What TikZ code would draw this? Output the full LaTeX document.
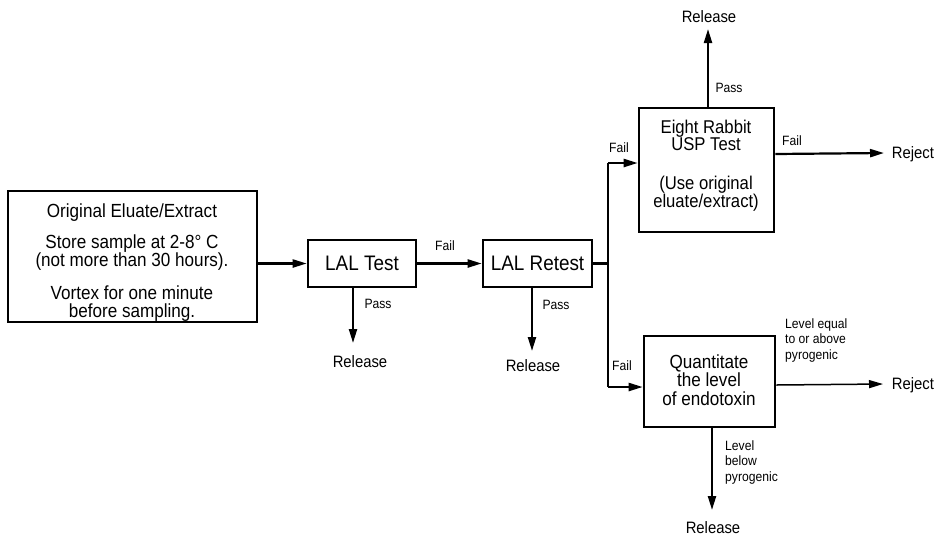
\documentclass[tikz,border=0pt]{standalone}
\usepackage{fontspec}
\setmainfont{Liberation Sans}[FakeStretch=0.9]
\usetikzlibrary{arrows.meta}
\begin{document}
\begin{tikzpicture}[x=1pt,y=-1pt,
  box/.style={draw,line width=2.6pt,minimum width=#1},
  flow/.style={line width=2.2pt,-{Triangle[length=14pt,width=8pt]}},
  thin flow/.style={line width=1.5pt,-{Triangle[length=14pt,width=8pt]}},
  txt/.style={inner sep=0pt,font=\fontsize{19}{18}\selectfont},
  big/.style={inner sep=0pt,font=\fontsize{21}{22}\selectfont},
  lbl/.style={inner sep=0pt,font=\fontsize{13.5}{15.5}\selectfont},
  outcome/.style={inner sep=0pt,font=\fontsize{16.5}{18}\selectfont}]
\useasboundingbox (0,0) rectangle (944,539);
% boxes
\node[box=249pt,minimum height=131pt] (orig) at (132.5,256.5) {};
\node[box=108pt,minimum height=47pt] (lal) at (362,263.5) {};
\node[box=109pt,minimum height=47pt] (retest) at (537.5,263.5) {};
\node[box=135pt,minimum height=124pt] (rabbit) at (706.5,170) {};
\node[box=131pt,minimum height=91pt] (quant) at (709.5,381.5) {};
% box texts
\node[txt] (o1) at (132,213) {Original Eluate/Extract};
\node[txt,align=center] (o2) at (132,253) {Store sample at 2-8° C\\(not more than 30 hours).};
\node[txt,align=center] (o3) at (132,304) {Vortex for one minute\\before sampling.};
\node[big] (lalt) at (lal) {LAL Test};
\node[big] (rett) at (retest) {LAL Retest};
\node[txt,align=center,font=\fontsize{18.5}{17}\selectfont] (r1) at (706,135) {Eight Rabbit\\USP Test};
\node[txt,align=center,font=\fontsize{18.5}{17}\selectfont] (r2) at (706,193.5) {(Use original\\eluate/extract)};
\node[txt,align=center,font=\fontsize{19}{18.5}\selectfont] (q1) at (709,380) {Quantitate\\the level\\of endotoxin};
% coordinates
\coordinate (j) at (608,263.5);
\coordinate (jt) at (608,163);
\coordinate (jb) at (608,387);
% outcome nodes
\node[outcome] (rel1) at (360,362) {Release};
\node[outcome] (rel2) at (533,366) {Release};
\node[outcome] (rel3) at (709,17) {Release};
\node[outcome] (rel4) at (713,528) {Release};
\node[outcome] (rej1) at (913,154) {Reject};
\node[outcome] (rej2) at (913,385) {Reject};
% connectors
\draw[flow] (orig.east |- lal.west) -- (lal.west);
\draw[flow] (lal.east) -- (retest.west);
\draw[line width=2.2pt] (retest.east) -- (j);
\draw[line width=2.2pt] (jt) -- (jb);
\draw[flow] (jt) -- (rabbit.west |- jt);
\draw[flow] (jb) -- (quant.west |- jb);
\draw[flow] (353,287) coordinate (p1) -- (353,343);
\draw[flow] (532,287) coordinate (p2) -- (532,351);
\draw[flow] (708,108) coordinate (p3) -- (708,29);
\draw[flow] (rabbit.east |- rej1) -- (884,153);
\draw[thin flow] (quant.east |- rej2) -- (883,384);
\draw[flow] (712,427) coordinate (p4) -- (712,510);
% labels
\node[lbl] (f1) at (445,246) {Fail};
\node[lbl] (ps1) at (378,304) {Pass};
\node[lbl] (ps2) at (556,305) {Pass};
\node[lbl] (f2) at (619,148) {Fail};
\node[lbl] (f3) at (622,366) {Fail};
\node[lbl] (ps3) at (729,88) {Pass};
\node[lbl] (f4) at (792,141) {Fail};
\node[lbl,align=left,anchor=west] (lv1) at (785,340) {Level equal\\to or above\\pyrogenic};
\node[lbl,align=left,anchor=west] (lv2) at (725,462) {Level\\below\\pyrogenic};
\end{tikzpicture}
\end{document}
